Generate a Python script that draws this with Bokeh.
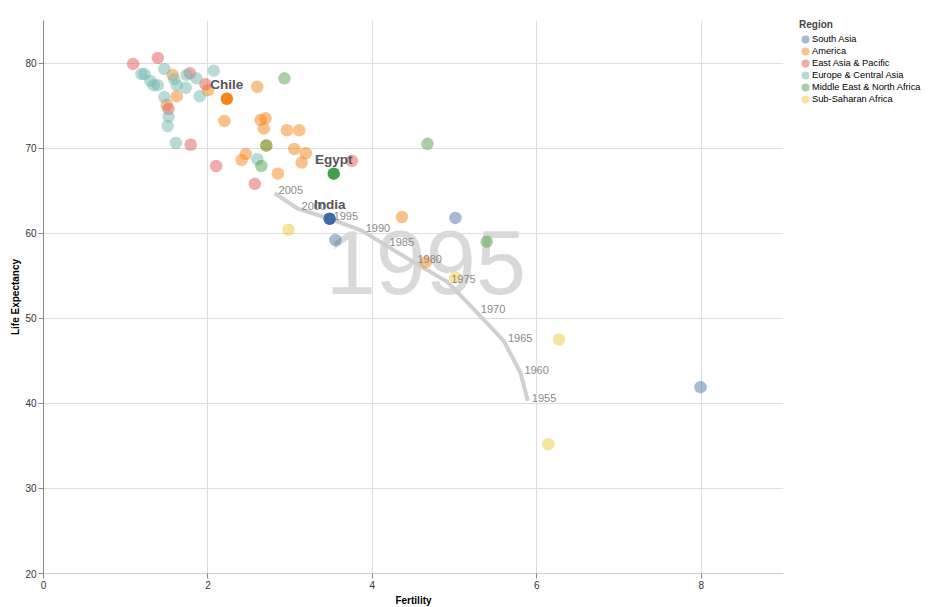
from bokeh.plotting import figure
from bokeh.models import Legend, LegendItem, FixedTicker, ColumnDataSource
from bokeh.core.properties import value
from bokeh.embed import file_html
from bokeh.resources import INLINE

# ---------------- data ----------------
regions = ["South Asia", "America", "East Asia & Pacific", "Europe & Central Asia",
           "Middle East & North Africa", "Sub-Saharan Africa"]
region_colors = ["#4c78a8", "#f58518", "#e45756", "#72b7b2", "#54a24b", "#eeca3b"]

south_asia_fertility = [3.55, 5.01, 7.99]
south_asia_life = [59.2, 61.8, 41.9]

america_fertility = [1.57, 1.62, 1.50, 2.00, 2.20, 2.60, 2.70, 2.64, 2.68, 2.96, 3.11, 2.71,
                     3.05, 3.19, 3.14, 2.46, 2.41, 2.85, 4.36, 4.65]
america_life = [78.6, 76.1, 75.1, 76.8, 73.2, 77.2, 73.5, 73.3, 72.3, 72.1, 72.1, 70.3,
                69.9, 69.4, 68.3, 69.3, 68.6, 67.0, 61.9, 56.6]

east_asia_fertility = [1.09, 1.39, 1.78, 1.97, 1.52, 1.79, 2.10, 2.57, 3.75]
east_asia_life = [79.9, 80.6, 78.8, 77.5, 74.6, 70.4, 67.9, 65.8, 68.5]

europe_fertility = [1.19, 1.23, 1.47, 1.59, 1.62, 1.30, 1.34, 1.39, 1.74, 1.86, 2.07, 1.73,
                    1.90, 1.47, 1.52, 1.51, 1.61, 2.60]
europe_life = [78.7, 78.7, 79.3, 78.1, 77.4, 77.9, 77.4, 77.4, 78.6, 78.2, 79.1, 77.1,
               76.1, 76.0, 73.7, 72.6, 70.6, 68.7]

mena_fertility = [2.93, 2.71, 2.65, 4.67, 5.39]
mena_life = [78.2, 70.3, 67.9, 70.5, 59.0]

africa_fertility = [2.98, 5.01, 6.27, 6.14]
africa_life = [60.4, 54.8, 47.5, 35.2]

highlight_country = ["Chile", "Egypt", "India"]
highlight_color = ["#f58518", "#43a047", "#3f6ca6"]
highlight_fertility = [2.23, 3.53, 3.48]
highlight_life = [75.8, 67.0, 61.7]

trail_years = ["1955", "1960", "1965", "1970", "1975", "1980", "1985", "1990", "1995", "2000", "2005"]
trail_fertility = [5.89, 5.80, 5.60, 5.27, 4.91, 4.50, 4.16, 3.87, 3.48, 3.09, 2.81]
trail_life = [40.3, 43.6, 47.3, 50.7, 54.3, 56.6, 58.6, 60.3, 61.7, 62.9, 64.7]

year_label = "1995"
x_ticks = [0, 2, 4, 6, 8]
y_ticks = [20, 30, 40, 50, 60, 70, 80]

FONT = "Liberation Sans"

# ---------------- figure ----------------
p = figure(frame_width=740, frame_height=553, x_range=(0, 9), y_range=(20, 85),
           output_backend="svg", toolbar_location=None,
           min_border_left=43, min_border_right=168, min_border_top=20, min_border_bottom=34)
p.outline_line_color = None
p.background_fill_color = "white"
p.border_fill_color = "white"

# big year
p.text(x=[4.65], y=[56.5], text=[year_label], text_align="center", text_baseline="middle",
       text_font=value(FONT), text_font_size="90px", text_color="#d9d9d9")

# trail
p.line(trail_fertility, trail_life, line_color="#d0d0d0", line_width=4, line_join="round")

# faded points (ellipses in screen units -> round dots, and round legend glyphs)
series = [(south_asia_fertility, south_asia_life), (america_fertility, america_life),
          (east_asia_fertility, east_asia_life), (europe_fertility, europe_life),
          (mena_fertility, mena_life), (africa_fertility, africa_life)]
items = []
for name, color, (fx, ly) in zip(regions, region_colors, series):
    r = p.ellipse(fx, ly, width=12.5, height=12.5, width_units="screen", height_units="screen",
                  fill_color=color, fill_alpha=0.5, line_color=None)
    items.append(LegendItem(label=name, renderers=[r]))

# trail labels
p.text(x=trail_fertility, y=trail_life, text=trail_years, x_offset=4, y_offset=-3,
       text_align="left", text_baseline="middle", text_font=value(FONT),
       text_font_size="11px", text_color="#8a8a8a")

# highlighted countries
hs = ColumnDataSource(dict(x=highlight_fertility, y=highlight_life, c=highlight_color,
                           t=highlight_country))
p.scatter("x", "y", source=hs, size=12.5, marker="circle", fill_color="c", line_color=None)
p.text("x", "y", text="t", source=hs, y_offset=-14, text_align="center",
       text_baseline="alphabetic", text_font=value(FONT), text_font_style="bold",
       text_font_size="13.5px", text_color="#555555")

# axes
for ax in (p.xaxis[0], p.yaxis[0]):
    ax.minor_tick_line_color = None
    ax.major_tick_in = 0
    ax.major_tick_out = 5
    ax.major_tick_line_color = "#888888"
    ax.major_label_text_font = FONT
    ax.major_label_text_font_size = "10px"
    ax.major_label_text_color = "#333333"
    ax.major_label_standoff = 2
    ax.axis_label_text_font = FONT
    ax.axis_label_text_font_size = "10px"
    ax.axis_label_text_font_style = "bold"
    ax.axis_label_text_color = "#000000"
p.xaxis.ticker = FixedTicker(ticks=x_ticks)
p.yaxis.ticker = FixedTicker(ticks=y_ticks)
p.xaxis.axis_label = "Fertility"
p.yaxis.axis_label = "Life Expectancy"
p.xaxis.axis_label_standoff = 3
p.yaxis.axis_label_standoff = 1
p.xaxis.axis_line_color = "#cccccc"
p.yaxis.axis_line_color = "#888888"

p.xgrid.ticker = FixedTicker(ticks=x_ticks)
p.ygrid.ticker = FixedTicker(ticks=y_ticks)
p.grid.grid_line_color = "#dddddd"

legend = Legend(items=items, location=(16, 468), title="Region",
                title_text_font=FONT, title_text_font_style="bold", title_text_font_size="10px",
                title_standoff=3, label_text_font=FONT, label_text_font_size="9.3px",
                label_text_color="#000000",
                glyph_width=12, glyph_height=10, label_height=12, label_standoff=1,
                spacing=0, padding=0, margin=0, border_line_color=None,
                background_fill_alpha=0)
p.add_layout(legend, "right")

open("out.html", "w").write(file_html(p, INLINE))
